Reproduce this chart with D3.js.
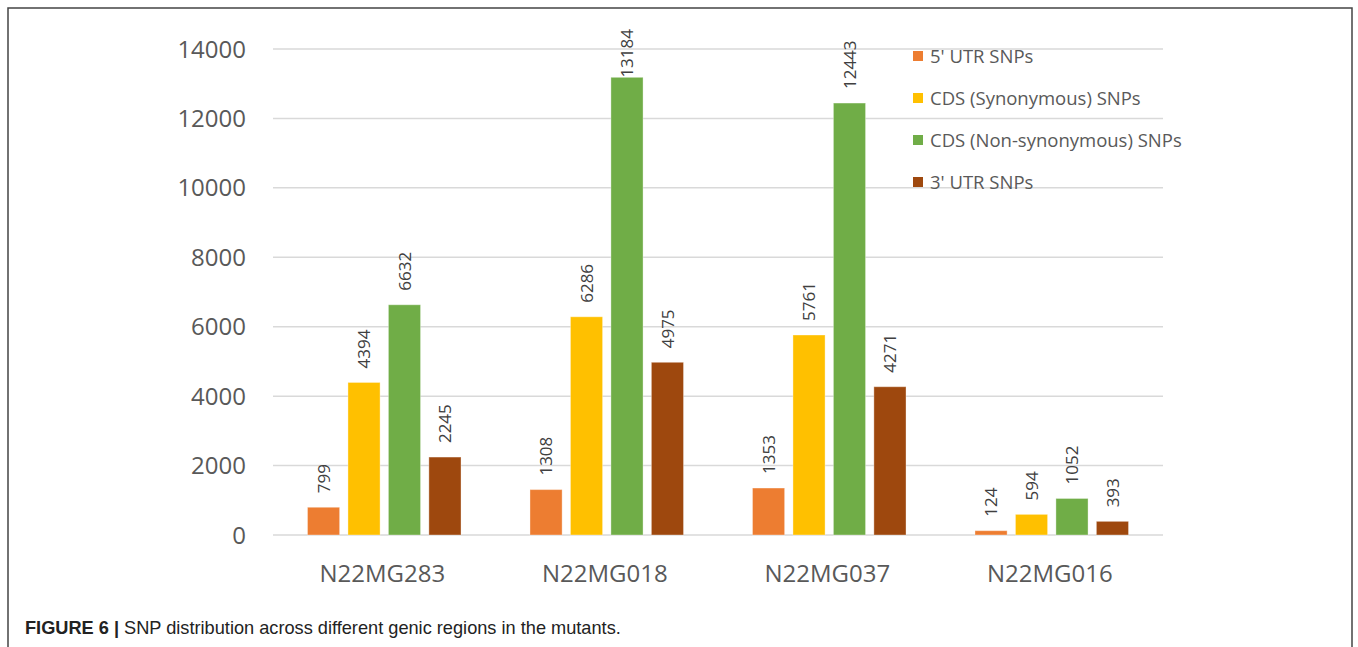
<!DOCTYPE html>
<html>
<head>
<meta charset="utf-8">
<script src="https://cdn.jsdelivr.net/npm/d3@7"></script>
<style>
  body { margin: 0; background: #fff; }
  svg { display: block; }
</style>
</head>
<body>
<svg id="chart" width="1358" height="647"></svg>
<script>
// mutants on the x axis
const categories = ["N22MG283", "N22MG018", "N22MG037", "N22MG016"];
const series = ["5' UTR SNPs", "CDS (Synonymous) SNPs", "CDS (Non-synonymous) SNPs", "3' UTR SNPs"];
const colors = ["#ED7D31", "#FFC000", "#70AD47", "#9E480E"];

// one array per series, same order as categories
const utr5 = [799, 1308, 1353, 124];
const cdsSyn = [4394, 6286, 5761, 594];
const cdsNonSyn = [6632, 13184, 12443, 1052];
const utr3 = [2245, 4975, 4271, 393];
const values = [utr5, cdsSyn, cdsNonSyn, utr3];

const yTicks = [0, 2000, 4000, 6000, 8000, 10000, 12000, 14000];

const svg = d3.select("#chart");
const plotLeft = 273, plotRight = 1163, plotTop = 49, plotBottom = 535;
const chartTop = 29; // labels are not allowed above this (excel clamps them)

// frame round the figure (no bottom edge in the picture)
svg.append("path")
  .attr("d", "M8,647 L8,8 L1352,8 L1352,647")
  .attr("fill", "none")
  .attr("stroke", "#444")
  .attr("stroke-width", 1.5);

const y = d3.scaleLinear().domain([0, 14000]).range([plotBottom, plotTop]);
const x0 = d3.scaleBand().domain(categories).range([plotLeft, plotRight])
  .paddingInner(0.31).paddingOuter(0.155);
const x1 = d3.scaleBand().domain(series).range([0, x0.bandwidth()])
  .paddingInner(0.206);

// gridlines
svg.append("g")
  .selectAll("line")
  .data(yTicks)
  .join("line")
  .attr("x1", plotLeft).attr("x2", plotRight)
  .attr("y1", (d) => y(d)).attr("y2", (d) => y(d))
  .attr("stroke", "#d9d9d9")
  .attr("stroke-width", 1.5);

// y tick labels
svg.append("g")
  .selectAll("text")
  .data(yTicks)
  .join("text")
  .attr("x", 246)
  .attr("y", (d) => y(d))
  .attr("dy", "0.36em")
  .attr("text-anchor", "end")
  .attr("font-family", "Open Sans")
  .attr("font-size", 24)
  .attr("fill", "#595959")
  .text((d) => d);

// category labels
svg.append("g")
  .selectAll("text")
  .data(categories)
  .join("text")
  .attr("x", (d) => x0(d) + x0.bandwidth() / 2 - 2)
  .attr("y", 582)
  .attr("text-anchor", "middle")
  .attr("font-family", "Open Sans")
  .attr("font-size", 24)
  .attr("fill", "#595959")
  .text((d) => d);

// flatten to one record per bar
const bars = [];
categories.forEach((c, i) => {
  series.forEach((s, j) => {
    bars.push({ cat: c, ser: s, color: colors[j], v: values[j][i] });
  });
});

const g = svg.append("g");
g.selectAll("rect")
  .data(bars)
  .join("rect")
  .attr("x", (d) => x0(d.cat) + x1(d.ser))
  .attr("y", (d) => y(d.v))
  .attr("width", x1.bandwidth())
  .attr("height", (d) => plotBottom - y(d.v))
  .attr("fill", (d) => d.color)
  .attr("stroke", "rgba(255,255,255,0.35)")
  .attr("stroke-width", 1);

// rotated value labels above bars
g.selectAll("text")
  .data(bars)
  .join("text")
  .attr("dy", "0.36em")
  .attr("text-anchor", "start")
  .attr("font-family", "Open Sans")
  .attr("font-size", 17)
  .attr("fill", "#404040")
  .text((d) => d.v)
  .attr("transform", function (d) {
    const cx = x0(d.cat) + x1(d.ser) + x1.bandwidth() / 2;
    const len = this.getComputedTextLength();
    const base = Math.max(y(d.v) - 14, chartTop + len);
    return `translate(${cx},${base}) rotate(-90)`;
  });

// legend
const legend = svg.append("g").attr("transform", "translate(913,56)");
const items = legend.selectAll("g")
  .data(series)
  .join("g")
  .attr("transform", (d, i) => `translate(0,${i * 42})`);
items.append("rect")
  .attr("x", 0).attr("y", -5)
  .attr("width", 10).attr("height", 10)
  .attr("fill", (d, i) => colors[i]);
items.append("text")
  .attr("x", 17)
  .attr("dy", "0.36em")
  .attr("font-family", "Open Sans")
  .attr("font-size", 18.5)
  .attr("fill", "#595959")
  .text((d) => d);

// caption
const cap = svg.append("text")
  .attr("x", 25)
  .attr("y", 634)
  .attr("font-family", "Liberation Sans")
  .attr("font-size", 18.2)
  .attr("fill", "#222");
cap.append("tspan").attr("font-weight", "bold").text("FIGURE 6 | ");
cap.append("tspan").text("SNP distribution across different genic regions in the mutants.");
</script>
</body>
</html>
